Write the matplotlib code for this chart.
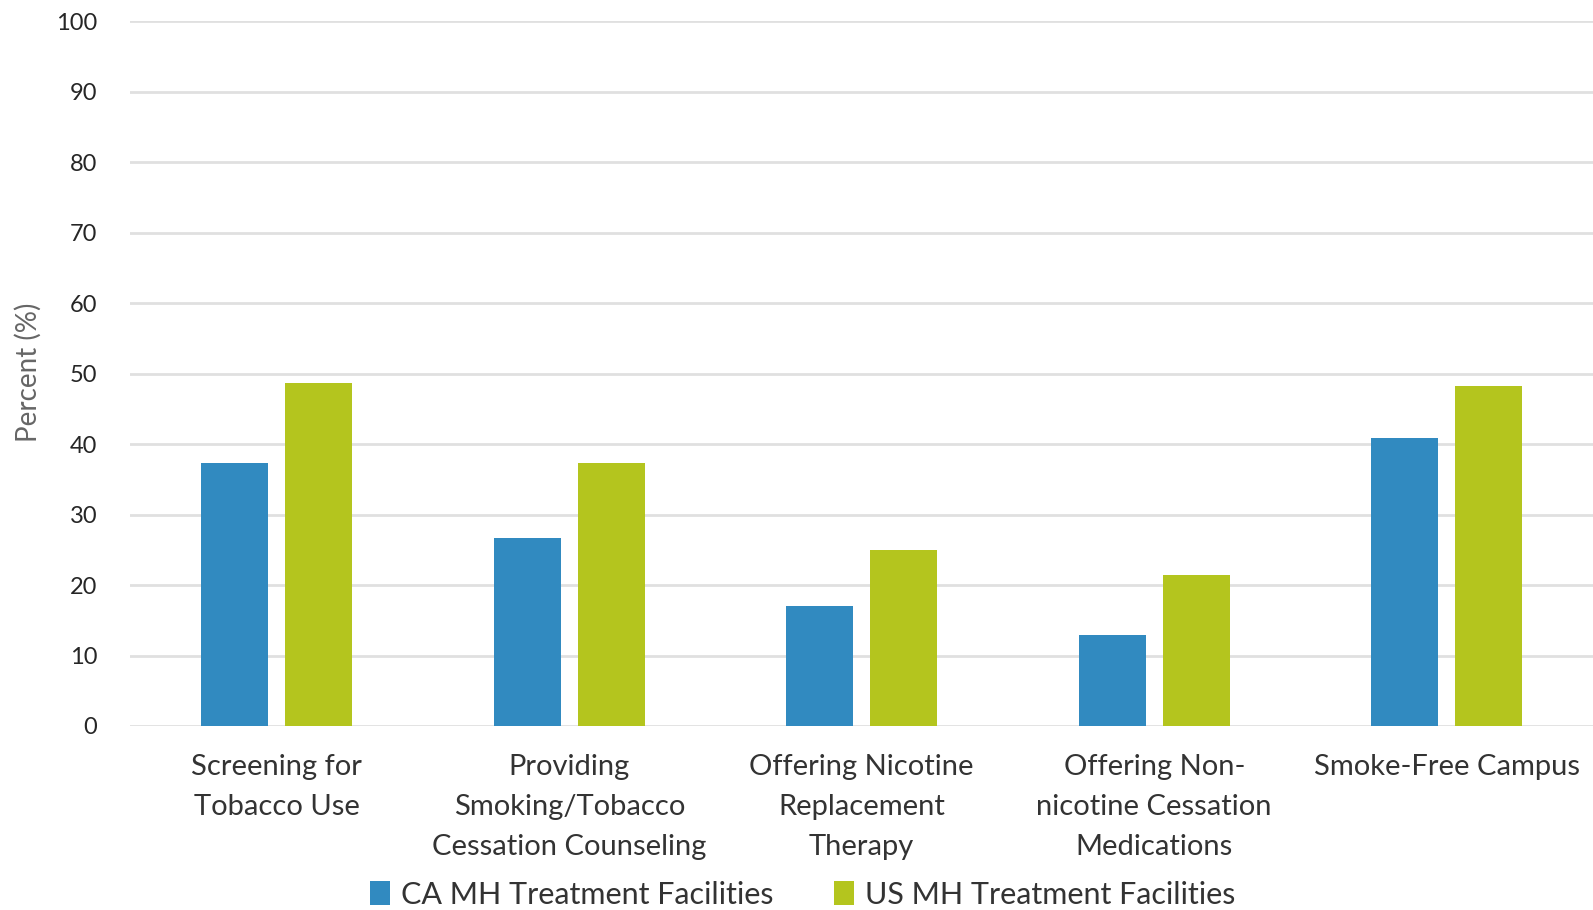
import matplotlib
matplotlib.use("Agg")
import matplotlib.pyplot as plt
from matplotlib.patches import Patch
import numpy as np

plt.rcParams['font.family'] = ['Lato', 'DejaVu Sans']

categories = [
    "Screening for\nTobacco Use",
    "Providing\nSmoking/Tobacco\nCessation Counseling",
    "Offering Nicotine\nReplacement\nTherapy",
    "Offering Non-\nnicotine Cessation\nMedications",
    "Smoke-Free Campus",
]
ca_values = [37.3, 26.7, 17.0, 12.9, 40.9]
us_values = [48.7, 37.3, 25.0, 21.4, 48.2]
series_names = ["CA MH Treatment Facilities", "US MH Treatment Facilities"]
yticks = [0, 10, 20, 30, 40, 50, 60, 70, 80, 90, 100]

blue = "#318AC0"
green = "#B4C51E"
text_dark = "#333333"

fig = plt.figure(figsize=(15.93, 9.10), dpi=100)
ax = fig.add_axes([0.0819, 0.2022, 1 - 0.0819, 0.7747])

x = np.arange(len(categories))
w = 0.229
off = 0.1436
ax.bar(x - off, ca_values, width=w, color=blue, zorder=3)
ax.bar(x + off, us_values, width=w, color=green, zorder=3)

ax.set_xlim(-0.5, 4.5)
ax.set_ylim(0, 100)
ax.set_yticks(yticks)
ax.set_yticklabels([str(t) for t in yticks], fontsize=17, color="#262626")
ax.set_xticks(x)
ax.set_xticklabels(categories, fontsize=21, color=text_dark, linespacing=1.68)
ax.tick_params(axis='both', length=0)
ax.tick_params(axis='y', pad=24)
ax.tick_params(axis='x', pad=20)
ax.grid(axis='y', color="#E0E0E0", linewidth=2, zorder=0)
for s in ax.spines.values():
    s.set_visible(False)

fig.text(0.018, 0.591, "Percent (%)", rotation=90, ha='center', va='center',
         fontsize=20, color="#666666")

handles = [Patch(facecolor=blue), Patch(facecolor=green)]
fig.legend(handles, series_names, loc='center', bbox_to_anchor=(0.504, 0.017),
           ncol=2, frameon=False, fontsize=22, labelcolor=text_dark,
           handlelength=0.65, handleheight=0.8, handletextpad=0.35,
           columnspacing=2.0, borderpad=0)

fig.savefig("out.png", dpi=100)
